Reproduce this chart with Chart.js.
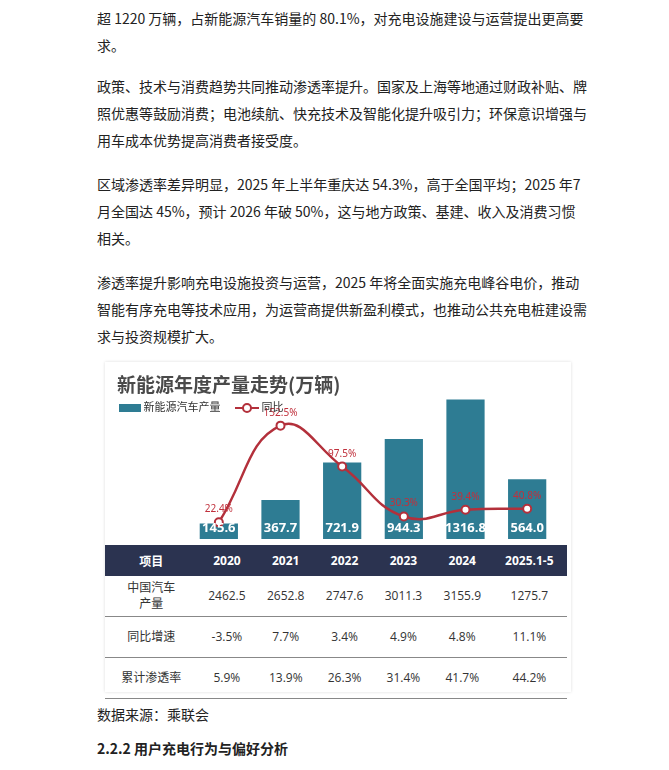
<!DOCTYPE html>
<html><head><meta charset="utf-8">
<script src="https://cdn.jsdelivr.net/npm/chart.js@4"></script>
<style>
body{margin:0;background:#fff;font-family:"Noto Sans CJK SC","Noto Sans",sans-serif;color:#222;}
.p{position:absolute;left:97px;width:490px;font-size:14px;line-height:27px;margin:0;}
#wrap{position:absolute;left:105px;top:362px;width:466px;height:330px;background:#fff;box-shadow:0 0 3px #ddd;}
#cv{position:absolute;left:0;top:3px;width:466px;height:180px;}
#title{position:absolute;left:12px;top:8px;font-size:19px;font-weight:bold;color:#4a4a4a;}
#leg{position:absolute;left:14px;top:36px;font-size:11px;color:#333;}
table{position:absolute;left:0;top:183px;width:462px;border-collapse:collapse;font-size:12px;text-align:center;font-family:"Open Sans","Noto Sans CJK SC",sans-serif;}
th{background:#2b3350;color:#fff;height:29px;font-weight:bold;}
td{border-bottom:1.5px solid #888;height:38px;color:#333;line-height:16px;}
</style></head><body>
<p class="p" style="top:5px">超 1220 万辆，占新能源汽车销量的 80.1%，对充电设施建设与运营提出更高要求。</p>
<p class="p" style="top:73px">政策、技术与消费趋势共同推动渗透率提升。国家及上海等地通过财政补贴、牌照优惠等鼓励消费；电池续航、快充技术及智能化提升吸引力；环保意识增强与用车成本优势提高消费者接受度。</p>
<p class="p" style="top:171px">区域渗透率差异明显，2025 年上半年重庆达 54.3%，高于全国平均；2025 年7 月全国达 45%，预计 2026 年破 50%，这与地方政策、基建、收入及消费习惯相关。</p>
<p class="p" style="top:269px">渗透率提升影响充电设施投资与运营，2025 年将全面实施充电峰谷电价，推动智能有序充电等技术应用，为运营商提供新盈利模式，也推动公共充电桩建设需求与投资规模扩大。</p>
<div id="wrap">
<canvas id="cv" width="466" height="180"></canvas>
<div id="title">新能源年度产量走势(万辆)</div>
<div id="leg"><span style="display:inline-block;width:22px;height:8px;background:#2e7c93;vertical-align:middle"></span> 新能源汽车产量
<span style="display:inline-block;margin-left:12px;width:24px;height:2px;background:#b3303b;vertical-align:middle;position:relative"><span style="position:absolute;left:7px;top:-4px;width:6px;height:6px;border:2px solid #b3303b;border-radius:50%;background:#fff"></span></span> 同比</div>
<table id="tb"></table>
</div>
<p class="p" style="top:701px">数据来源：乘联会</p>
<p class="p" style="top:735px;font-weight:bold">2.2.2 用户充电行为与偏好分析</p>
<script>
var years = ["2020","2021","2022","2023","2024","2025.1-5"];
var nevOutput = [145.6, 367.7, 721.9, 944.3, 1316.8, 564.0];
var yoy = [22.4, 152.5, 97.5, 30.3, 39.4, 40.8];
var carOutput = ["2462.5","2652.8","2747.6","3011.3","3155.9","1275.7"];
var carGrowth = ["-3.5%","7.7%","3.4%","4.9%","4.8%","11.1%"];
var penetration = ["5.9%","13.9%","26.3%","31.4%","41.7%","44.2%"];

var html = "<tr><th>项目</th>" + years.map(function(y){return "<th>"+y+"</th>";}).join("") + "</tr>";
[["中国汽车<br>产量", carOutput], ["同比增速", carGrowth], ["累计渗透率", penetration]].forEach(function(r){
  html += "<tr><td>" + r[0] + "</td>" + r[1].map(function(v){return "<td>"+v+"</td>";}).join("") + "</tr>";
});
document.getElementById("tb").innerHTML = html;

var labels = {
  id: "labels",
  afterDatasetsDraw: function(chart) {
    var ctx = chart.ctx;
    ctx.save();
    ctx.textAlign = "center";
    chart.getDatasetMeta(0).data.forEach(function(b, i) {
      ctx.font = "bold 13px 'Open Sans'";
      ctx.fillStyle = "#fff";
      ctx.fillText(nevOutput[i].toFixed(1), b.x, chart.chartArea.bottom - 7);
    });
    chart.getDatasetMeta(1).data.forEach(function(p, i) {
      ctx.font = "10px 'Noto Sans'";
      ctx.fillStyle = "#c0303c";
      ctx.fillText(yoy[i] + "%", p.x, p.y - 10);
    });
    ctx.restore();
  }
};

new Chart(document.getElementById("cv"), {
  type: "bar",
  data: {
    labels: years,
    datasets: [{
      data: nevOutput, backgroundColor: "#2e7c93", barPercentage: 0.62, categoryPercentage: 1, order: 2
    }, {
      type: "line", data: yoy, yAxisID: "y1", borderColor: "#b3303b", borderWidth: 2.5,
      tension: 0.45, pointRadius: 4, pointBackgroundColor: "#fff", pointBorderColor: "#b3303b",
      pointBorderWidth: 2, order: 1
    }]
  },
  options: {
    responsive: false, animation: false,
    layout: { padding: { left: 83, right: 13, top: 0, bottom: 0 } },
    plugins: { legend: { display: false }, tooltip: { enabled: false } },
    scales: {
      x: { display: false },
      y: { display: false, min: 0, max: 1587 },
      y1: { display: false, min: 0, max: 226 }
    }
  },
  plugins: [labels]
});
</script>
</body></html>
